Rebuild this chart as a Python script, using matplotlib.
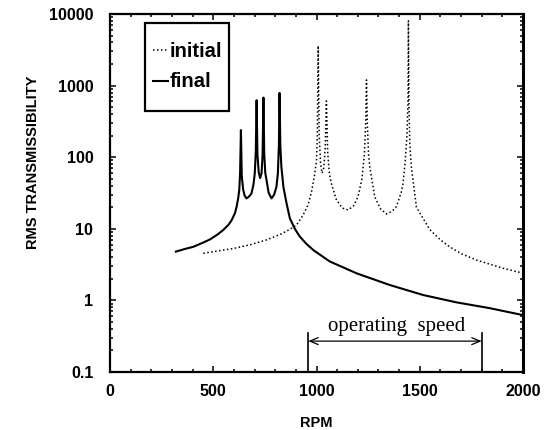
import matplotlib
matplotlib.use("Agg")
import matplotlib.pyplot as plt
from matplotlib.patches import Rectangle
from matplotlib.ticker import LogLocator, MultipleLocator, FixedLocator

# ---- data: RMS transmissibility vs shaft speed ----
final_rpm = [319, 360, 403, 450, 484, 520, 548, 575, 589, 605, 613, 621, 626, 630, 634, 638,
             645, 652, 661, 672, 685, 695, 701, 706, 710, 714, 720, 727, 734, 739, 743, 747,
             752, 758, 768, 782, 795, 806, 813, 818, 821, 825, 830, 840, 855, 871, 895, 919,
             950, 984, 1064, 1194, 1355, 1516, 1677, 1838, 1992]
final_val = [4.8, 5.2, 5.6, 6.4, 7.1, 8.3, 9.6, 11.5, 13.2, 16.5, 20.3, 27, 35, 60, 239, 55,
             35, 29, 26.6, 28, 31, 42, 59, 120, 625, 110, 62, 51, 60, 110, 680, 110,
             60, 48, 32, 26.6, 30, 38.6, 60, 150, 790, 140, 73, 38, 22.7, 14, 10, 7.8,
             6.2, 5.06, 3.5, 2.39, 1.64, 1.19, 0.94, 0.78, 0.63]

initial_rpm = [452, 520, 597, 680, 758, 830, 870, 903, 935, 960, 976, 990, 1000, 1004, 1008,
               1013, 1020, 1027, 1035, 1042, 1048, 1054, 1062, 1072, 1097, 1125, 1153, 1180,
               1201, 1220, 1232, 1238, 1242, 1246, 1252, 1258, 1282, 1310, 1339, 1365, 1387,
               1410, 1419, 1430, 1438, 1443, 1445, 1448, 1452, 1460, 1484, 1548, 1600, 1645,
               1700, 1774, 1840, 1903, 1990]
initial_val = [4.55, 4.9, 5.3, 6.0, 7.0, 8.5, 9.8, 11.3, 15.5, 22, 33, 55, 90, 200, 3600,
               200, 80, 60, 70, 130, 610, 120, 60, 43, 25, 19.5, 18.3, 21,
               28, 50, 110, 300, 1200, 300, 110, 73, 28, 19, 16.1, 17.5, 20.4,
               32, 43, 90, 200, 600, 8000, 500, 150, 70, 20, 9.8, 7.0, 5.6,
               4.5, 3.67, 3.2, 2.81, 2.44]

op_lo, op_hi = 960, 1800
op_bar_top = 0.352
op_arrow_y = 0.27
op_text_y = 0.37

SANS = ["Liberation Sans", "DejaVu Sans"]
DOTS = (0, (1, 1.6))

fig = plt.figure(figsize=(5.51, 4.30), dpi=100)
ax = fig.add_axes([110 / 551, 58 / 430, 413 / 551, 358 / 430])

ax.plot(initial_rpm, initial_val, color="black", lw=1.1, linestyle=DOTS)
ax.plot(final_rpm, final_val, color="black", lw=1.5)

ax.set_yscale("log")
ax.set_xlim(0, 2000)
ax.set_ylim(0.1, 10000)

ax.xaxis.set_major_locator(MultipleLocator(500))
ax.xaxis.set_minor_locator(MultipleLocator(100))
ax.yaxis.set_major_locator(FixedLocator([0.1, 1, 10, 100, 1000, 10000]))
ax.yaxis.set_minor_locator(LogLocator(base=10, subs=range(2, 10), numticks=20))
ax.set_yticklabels(["0.1", "1", "10", "100", "1000", "10000"])

ax.tick_params(which="both", direction="in", top=True, right=True, width=1.1)
ax.tick_params(which="major", length=4.5)
ax.tick_params(which="minor", length=2.2)
ax.tick_params(axis="x", which="major", pad=9)
ax.tick_params(axis="y", which="major", pad=12)
for lab in ax.get_xticklabels() + ax.get_yticklabels():
    lab.set_family(SANS)
    lab.set_fontweight("bold")
    lab.set_fontsize(11.5)

for sp in ax.spines.values():
    sp.set_linewidth(1.6)
ax.spines["right"].set_linewidth(2.2)

ax.set_xlabel("RPM", family=SANS, fontweight="bold", fontsize=10.5)
ax.set_ylabel("RMS TRANSMISSIBILITY", family=SANS, fontweight="bold", fontsize=10.5)
ax.xaxis.set_label_coords(0.5, -0.123)
ax.yaxis.set_label_coords(-0.17, 0.587)

# operating speed range marker
ax.plot([op_lo, op_lo], [0.1, op_bar_top], color="black", lw=1.2)
ax.plot([op_hi, op_hi], [0.1, op_bar_top], color="black", lw=1.2)
ax.annotate("", xy=(op_lo, op_arrow_y), xytext=(op_hi, op_arrow_y),
            arrowprops=dict(arrowstyle="<->,head_length=0.6,head_width=0.25",
                            color="black", lw=0.9, shrinkA=0, shrinkB=0))
ax.text((op_lo + op_hi) / 2 + 9, op_text_y, "operating  speed", ha="center", va="baseline",
        family=["Liberation Serif", "DejaVu Serif"], fontsize=15)

# key box, drawn by hand so the row spacing can be set freely
tA = ax.transAxes
ax.add_patch(Rectangle((0.0847, 0.729), 0.2033, 0.246, transform=tA, fill=True,
                       facecolor="white", edgecolor="black", lw=1.6, zorder=5))
ax.plot([0.1041, 0.1404], [0.8994, 0.8994], transform=tA, color="black", lw=1.1,
        linestyle=DOTS, zorder=6)
ax.plot([0.1041, 0.1404], [0.8142, 0.8142], transform=tA, color="black", lw=1.5, zorder=6)
for label, ybase in [("initial", 0.8807), ("final", 0.7953)]:
    ax.text(0.1453, ybase, label, transform=tA, ha="left", va="baseline",
            family=SANS, fontweight="bold", fontsize=14.6, zorder=6)

fig.savefig("out.png", dpi=100)
